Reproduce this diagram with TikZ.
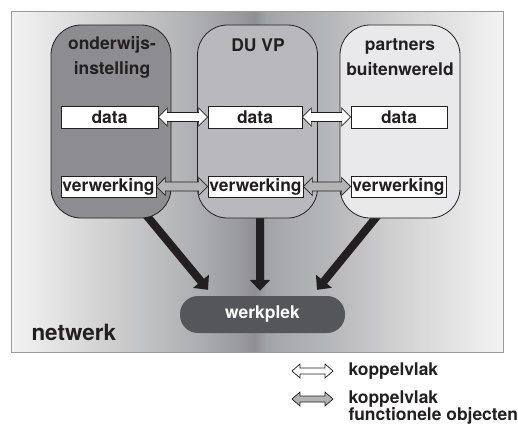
\documentclass[tikz,border=0pt]{standalone}
\usepackage{fontspec}
\setmainfont{TeX Gyre Heros}
\usetikzlibrary{arrows.meta,calc}

\definecolor{inkt}{HTML}{231F20}
\definecolor{randgrijs}{HTML}{9A9A9A}
\definecolor{kolA}{HTML}{8D8D91}
\definecolor{kolB}{HTML}{B9B9BD}
\definecolor{kolC}{HTML}{E9E9EB}
\definecolor{werkgrijs}{HTML}{55565A}
\definecolor{pijlgrijs}{HTML}{B3B3B6}
\definecolor{bgA}{HTML}{F3F3F3}
\definecolor{bgB}{HTML}{C8C8C9}
\definecolor{bgC}{HTML}{AEB0B3}
\definecolor{bgD}{HTML}{98989C}
\definecolor{bgE}{HTML}{8E8E93}
\definecolor{bgF}{HTML}{A2A5A8}
\definecolor{bgG}{HTML}{B7B7BB}
\definecolor{bgH}{HTML}{D2D2D2}
\definecolor{bgI}{HTML}{F3F3F3}

\pgfdeclarehorizontalshading{netshade}{100bp}{color(0bp)=(bgA); color(25bp)=(bgA);
  color(37bp)=(bgB); color(43.5bp)=(bgC); color(48.5bp)=(bgD); color(49.8bp)=(bgE);
  color(51bp)=(bgF); color(57.5bp)=(bgG); color(64.5bp)=(bgH); color(75bp)=(bgI);
  color(100bp)=(bgI)}

\pgfdeclarelayer{achter}
\pgfdeclarelayer{midden}
\pgfsetlayers{achter,midden,main}

% fat double arrow: style, from, to, head length, head half width, shaft half width
\newcommand{\koppel}[6]{%
  \draw[#1] let \p1=(#2), \p2=(#3) in
    (\x1,\y1) -- (\x1+#4,\y1+#5) -- (\x1+#4,\y1+#6) -- (\x2-#4,\y1+#6)
    -- (\x2-#4,\y1+#5) -- (\x2,\y1) -- (\x2-#4,\y1-#5) -- (\x2-#4,\y1-#6)
    -- (\x1+#4,\y1-#6) -- (\x1+#4,\y1-#5) -- cycle;}

\tikzset{
  tekst/.style={font=\fontsize{17.5}{25}\selectfont\bfseries, text=inkt},
  kolom/.style={draw=inkt, line width=0.8bp, rounded corners=30bp,
    minimum width=120bp, minimum height=193bp},
  vak/.style={tekst, draw=inkt, fill=white, line width=0.8bp,
    minimum height=22bp, inner sep=1bp},
  pijl/.style={draw=inkt, line width=0.7bp, fill=white},
  grijspijl/.style={pijl, fill=pijlgrijs},
  dikpijl/.style={draw=inkt, line width=8bp, -{Triangle[length=11bp,width=20bp]}},
}

\begin{document}
\begin{tikzpicture}[x=1bp, y=-1bp]
  \useasboundingbox (0,0) rectangle (518,425);

  % netwerk background
  \begin{pgfonlayer}{achter}
    \shade[shading=netshade, draw=randgrijs, line width=1bp] (11,11) rectangle (503,352);
  \end{pgfonlayer}

  % columns
  \node[kolom, fill=kolA] (onderwijs) at (111,121.5) {};
  \node[kolom, fill=kolB] (duvp) at (257.5,121.5) {};
  \node[kolom, fill=kolC] (partners) at (400,121.5) {};

  \node[tekst, align=center] (t1) at (112,57.5) {onderwijs-\\instelling};
  \node[tekst] (t2) at (258,45) {DU VP};
  \node[tekst, align=center] (t3) at (400,57.5) {partners\\buitenwereld};

  % data and verwerking
  \node[vak, minimum width=97bp] (data1) at (109.5,117) {data};
  \node[vak, minimum width=94bp] (data2) at (255,117) {data};
  \node[vak, minimum width=96bp] (data3) at (399,117) {data};
  \node[vak, minimum width=95bp, minimum height=21bp] (verw1) at (108.5,186.5) {verwerking};
  \node[vak, minimum width=95bp, minimum height=21bp] (verw2) at (255.5,186.5) {verwerking};
  \node[vak, minimum width=95bp, minimum height=21bp] (verw3) at (398.5,186.5) {verwerking};

  \koppel{pijl}{data1.east}{data2.west}{9}{9}{4.5}
  \koppel{pijl}{data2.east}{data3.west}{9}{9}{4.5}
  \koppel{grijspijl}{verw1.east}{verw2.west}{9}{9}{4.5}
  \koppel{grijspijl}{verw2.east}{verw3.west}{9}{9}{4.5}

  % werkplek
  \node[tekst, fill=werkgrijs, text=white, rounded corners=18bp,
    minimum width=165bp, minimum height=37bp] (werkplek) at (262.5,314.5) {werkplek};

  \begin{pgfonlayer}{midden}
    \draw[dikpijl] ($(onderwijs.south)+(28,-12)$) -- ($(werkplek.north)+(-54.5,-6)$);
    \draw[dikpijl] ($(duvp.south)+(2.5,-10)$) -- ($(werkplek.north)+(-2.5,-5)$);
    \draw[dikpijl] ($(partners.south)+(-15,-12)$) -- ($(werkplek.north)+(54.5,-6)$);
  \end{pgfonlayer}

  \node[font=\fontsize{22.5}{22}\selectfont\bfseries, text=inkt, anchor=base west]
    (netwerk) at (28,340) {netwerk};

  % legend
  \coordinate (lw1) at (292,371);
  \coordinate (lw2) at (333,371);
  \coordinate (lg1) at (292,399);
  \coordinate (lg2) at (333,399);
  \koppel{pijl}{lw1}{lw2}{8}{7}{3}
  \koppel{grijspijl}{lg1}{lg2}{8}{7}{3}
  \node[tekst, anchor=west] (k1) at (345,371) {koppelvlak};
  \node[tekst, font=\fontsize{17.5}{18}\selectfont\bfseries, align=left, anchor=west]
    (k2) at (345,407.5) {koppelvlak\\functionele objecten};
\end{tikzpicture}
\end{document}
